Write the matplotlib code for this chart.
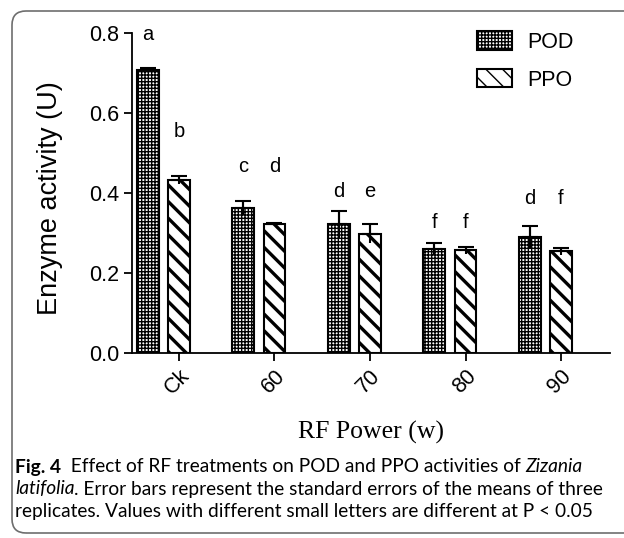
import numpy as np
import matplotlib
matplotlib.use("Agg")
import matplotlib.pyplot as plt
from matplotlib.patches import FancyBboxPatch
from matplotlib.text import Annotation
from matplotlib.transforms import IdentityTransform

groups = ["Ck", "60", "70", "80", "90"]
pod = [0.708, 0.362, 0.322, 0.259, 0.289]
pod_err = [0.004, 0.018, 0.034, 0.015, 0.029]
ppo = [0.432, 0.322, 0.298, 0.257, 0.254]
ppo_err = [0.010, 0.002, 0.024, 0.009, 0.009]
pod_letters = ["a", "c", "d", "f", "d"]
ppo_letters = ["b", "d", "e", "f", "f"]
letter_y = [(0.795, 0.553), (0.466, 0.466), (0.403, 0.403), (0.325, 0.325), (0.385, 0.385)]

W, H = 624, 538
fig = plt.figure(figsize=(W / 100, H / 100), dpi=100)
ax = fig.add_axes([132 / W, 1 - 353 / H, (610 - 132) / W, (353 - 33) / H])

x = np.arange(len(groups))
off = 0.325
width = 0.23

with plt.rc_context({"hatch.linewidth": 1.0}):
    ax.bar(x - off, pod, width, facecolor="white", edgecolor="black",
           linewidth=1.5, hatch="+++++", label="POD")
with plt.rc_context({"hatch.linewidth": 2.4}):
    ax.bar(x, ppo, width, facecolor="white", edgecolor="black",
           linewidth=1.5, hatch="\\\\", label="PPO")

for xs, ys, es in [(x - off, pod, pod_err), (x, ppo, ppo_err)]:
    ax.errorbar(xs, ys, yerr=[es, es], fmt="none", ecolor="black",
                elinewidth=1.5, capsize=0)
    ax.errorbar(xs, ys, yerr=[np.zeros(len(es)), es], fmt="none",
                ecolor="black", elinewidth=1.5, capsize=6, capthick=1.5)

for i, (a, b) in enumerate(zip(pod_letters, ppo_letters)):
    ax.text(x[i] - off, letter_y[i][0], a, ha="center", va="center",
            fontsize=14.5, family="Liberation Sans")
    ax.text(x[i], letter_y[i][1], b, ha="center", va="center",
            fontsize=14.5, family="Liberation Sans")

ax.set_xlim(-0.492, 4.513)
ax.set_ylim(0, 0.8)
ax.set_yticks([0, 0.2, 0.4, 0.6, 0.8])
ax.set_yticklabels(["0.0", "0.2", "0.4", "0.6", "0.8"])
ax.set_xticks(x)
ax.set_xticklabels(groups, rotation=45, ha="right", va="top",
                   rotation_mode="anchor")
for lab in ax.get_xticklabels() + ax.get_yticklabels():
    lab.set_family("Liberation Sans")
    lab.set_fontsize(15.5)
ax.tick_params(length=6, width=1.3, pad=3)
ax.spines["top"].set_visible(False)
ax.spines["right"].set_visible(False)
for s in ("left", "bottom"):
    ax.spines[s].set_linewidth(1.3)

fig.text(50 / W, 1 - 198 / H, "Enzyme activity (U)", rotation=90,
         ha="center", va="center", fontsize=19.5, family="Liberation Sans")
fig.text(371 / W, 1 - 432 / H, "RF Power (w)", ha="center", va="center",
         fontsize=18.5, family="Liberation Serif")

ax.legend(loc="upper left", bbox_to_anchor=(477 / W, 1 - 31 / H),
          bbox_transform=fig.transFigure, frameon=False, borderpad=0,
          borderaxespad=0, handlelength=1.63, handleheight=0.95,
          handletextpad=0.7, labelspacing=0.75,
          prop={"family": "Liberation Sans", "size": 15.5})

# caption
cap = 13.8
first = fig.text(15 / W, 1 - 467 / H, "Fig. 4", fontsize=cap, weight="bold",
                 family="Lato", va="center")
part2 = fig.add_artist(Annotation(
    "  Effect of RF treatments on POD and PPO activities of ", xy=(1, 0.5),
    xycoords=first, va="center", fontsize=cap, family="Lato"))
fig.add_artist(Annotation(
    "Zizania", xy=(1, 0.5), xycoords=part2, va="center", fontsize=cap,
    family="Lato", style="italic"))
line2 = fig.text(15 / W, 1 - 489 / H, "latifolia", fontsize=cap,
                 family="Lato", style="italic", va="center")
fig.add_artist(Annotation(
    ". Error bars represent the standard errors of the means of three",
    xy=(1, 0.5), xycoords=line2, va="center", fontsize=cap, family="Lato"))
fig.text(15 / W, 1 - 511 / H,
         "replicates. Values with different small letters are different at P < 0.05",
         fontsize=cap, family="Lato", va="center")

# rounded frame, open to the right (pixel coordinates)
fig.add_artist(FancyBboxPatch((12, H - 533), 1000, 533 - 11,
                              boxstyle="round,pad=0,rounding_size=14",
                              transform=IdentityTransform(), facecolor="none",
                              edgecolor="#6e6e6e", linewidth=1.2,
                              clip_on=False))

fig.savefig("out.png", dpi=100)
